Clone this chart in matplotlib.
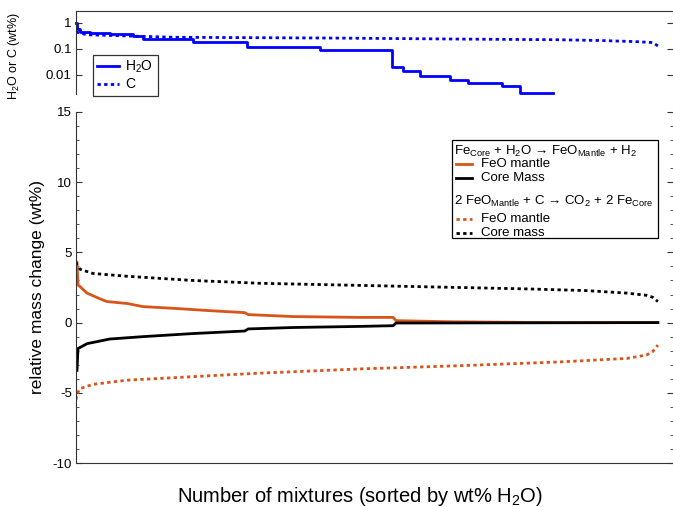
import matplotlib
matplotlib.use('Agg')
import matplotlib.pyplot as plt
from matplotlib.lines import Line2D
from matplotlib.patches import Rectangle
from matplotlib.ticker import FixedLocator, MultipleLocator, NullLocator

plt.rcParams['font.family'] = ['Liberation Sans', 'DejaVu Sans']
plt.rcParams['mathtext.fontset'] = 'custom'
plt.rcParams['mathtext.rm'] = 'Liberation Sans'
plt.rcParams['mathtext.it'] = 'Liberation Sans:italic'
plt.rcParams['mathtext.bf'] = 'Liberation Sans:bold'
plt.rcParams['axes.unicode_minus'] = False

# ---- data (x = mixture number, sorted by wt% H2O) ----
h2o_x = [0, 2, 7, 24, 58, 98, 115, 201, 294, 419, 543, 562, 591, 643, 674, 732, 763, 820]
h2o_y = [1.0, 0.6, 0.46, 0.40, 0.37, 0.32, 0.24, 0.19, 0.123, 0.092, 0.02, 0.014,
         0.009, 0.0065, 0.0048, 0.0036, 0.0019, 0.0019]

c_x = [0, 19, 98, 170, 454, 644, 828, 902, 962, 991, 1000]
c_y = [0.45, 0.35, 0.31, 0.28, 0.26, 0.24, 0.225, 0.21, 0.19, 0.175, 0.13]

feo_h2o_x = [1.7, 3.4, 19, 41, 53, 88, 115, 174, 230, 290, 296, 373, 488, 545, 550, 643, 820, 1000]
feo_h2o_y = [4.3, 2.7, 2.1, 1.7, 1.5, 1.36, 1.14, 1.0, 0.85, 0.71, 0.57, 0.43, 0.37, 0.37,
             0.14, 0.06, 0.0, 0.0]

core_h2o_x = [1.7, 3.4, 19, 58, 115, 201, 290, 296, 373, 488, 545, 550, 1000]
core_h2o_y = [-3.4, -1.85, -1.5, -1.17, -1.0, -0.78, -0.6, -0.45, -0.35, -0.27, -0.22,
              -0.03, 0.0]

core_c_x = [0, 1.7, 7, 29, 88, 201, 316, 488, 775, 877, 947, 981, 991, 1000]
core_c_y = [4.3, 4.1, 3.8, 3.5, 3.3, 3.0, 2.8, 2.65, 2.4, 2.28, 2.1, 1.94, 1.81, 1.5]

feo_c_x = [0, 1.7, 7, 29, 88, 201, 316, 488, 660, 832, 947, 981, 991, 1000]
feo_c_y = [-5.5, -5.1, -4.7, -4.4, -4.1, -3.85, -3.6, -3.3, -3.07, -2.8, -2.55, -2.3,
           -2.07, -1.6]

top_ticks = [0.01, 0.1, 1]
top_ticklabels = ['0.01', '0.1', '1']
main_ticks = [-10, -5, 0, 5, 10, 15]

blue = '#0000ff'
orange = '#d9541a'
spine_col = '#333333'
dots = (0, (1.2, 1.2))

fig = plt.figure(figsize=(6.73, 5.07), dpi=100)
ax_top = fig.add_axes([76 / 673, 1 - 94 / 507, 597 / 673, 83 / 507])
ax = fig.add_axes([76 / 673, 1 - 463 / 507, 597 / 673, 351 / 507])
xlim = (0, 1026)

# ---- top panel: H2O and C content ----
ax_top.plot(h2o_x, h2o_y, color=blue, lw=2, drawstyle='steps-post', label='H$_2$O',
            clip_on=False)
ax_top.plot(c_x, c_y, color=blue, lw=2, linestyle=dots, dash_capstyle='butt', label='C')
ax_top.set_yscale('log')
ax_top.set_ylim(0.0018, 2.9)
ax_top.set_xlim(xlim)
ax_top.yaxis.set_major_locator(FixedLocator(top_ticks))
ax_top.set_yticklabels(top_ticklabels)
ax_top.yaxis.set_minor_locator(NullLocator())
ax_top.set_xticks([])
for s in ['right', 'bottom']:
    ax_top.spines[s].set_visible(False)
for s in ['left', 'top']:
    ax_top.spines[s].set_color(spine_col)
    ax_top.spines[s].set_linewidth(0.8)
ax_top.tick_params(axis='y', direction='in', right=True, length=4, width=0.8,
                   labelsize=9.5, pad=3, color=spine_col)
fig.text(14 / 673, 1 - 56 / 507, 'H$_2$O or C (wt%)', fontsize=9, rotation=90,
         ha='center', va='center')
leg = ax_top.legend(loc='lower left', bbox_to_anchor=(0.028, -0.02), fontsize=10,
                    frameon=True, fancybox=False, edgecolor='black', handlelength=1.6,
                    handletextpad=0.45, labelspacing=0.15, borderpad=0.3,
                    borderaxespad=0)
leg.get_frame().set_linewidth(0.9)

# ---- main panel: relative mass change ----
ax.plot(feo_h2o_x, feo_h2o_y, color=orange, lw=2)
ax.plot(core_h2o_x, core_h2o_y, color='black', lw=2)
ax.plot(feo_c_x, feo_c_y, color=orange, lw=2, linestyle=dots, dash_capstyle='butt')
ax.plot(core_c_x, core_c_y, color='black', lw=2, linestyle=dots, dash_capstyle='butt')
ax.set_xlim(xlim)
ax.set_ylim(-10, 15)
ax.set_yticks(main_ticks)
ax.yaxis.set_minor_locator(MultipleLocator(1))
ax.set_xticks([])
for s in ['right', 'top']:
    ax.spines[s].set_visible(False)
for s in ['left', 'bottom']:
    ax.spines[s].set_color(spine_col)
    ax.spines[s].set_linewidth(0.8)
ax.tick_params(axis='y', which='major', direction='in', right=True, length=4, width=0.8,
               labelsize=9.5, pad=3, color=spine_col)
ax.tick_params(axis='y', which='minor', direction='in', right=True, length=2, width=0.6,
               color=spine_col)
fig.text(38 / 673, 1 - 287 / 507, 'relative mass change (wt%)', fontsize=12.5,
         rotation=90, ha='center', va='center')
fig.text(360 / 673, 1 - 496 / 507, 'Number of mixtures (sorted by wt% H$_2$O)',
         fontsize=14.5, ha='center', va='center')

# ---- legend with reaction headers ----
ax.add_patch(Rectangle((0.630, 0.641), 0.345, 0.279, transform=ax.transAxes,
                       facecolor='white', edgecolor='black', lw=0.9, zorder=5))
hx, lx0, lx1, tx = 0.633, 0.636, 0.664, 0.679
fs = 9.5
ax.text(hx, 0.889, r'Fe$_{\rm Core}$ + H$_2$O → FeO$_{\rm Mantle}$ + H$_2$', fontsize=fs,
        transform=ax.transAxes, va='center', zorder=6)
ax.text(hx, 0.746, r'2 FeO$_{\rm Mantle}$ + C → CO$_2$ + 2 Fe$_{\rm Core}$', fontsize=fs,
        transform=ax.transAxes, va='center', zorder=6)
entries = [('FeO mantle', orange, '-', 0.852), ('Core Mass', 'black', '-', 0.813),
           ('FeO mantle', orange, dots, 0.694), ('Core mass', 'black', dots, 0.655)]
for label, col, ls, yy in entries:
    ax.add_line(Line2D([lx0, lx1], [yy, yy], color=col, lw=2, linestyle=ls,
                       dash_capstyle='butt', transform=ax.transAxes, zorder=6))
    ax.text(tx, yy, label, fontsize=fs, transform=ax.transAxes, va='center', zorder=6)

fig.savefig('out.png', dpi=100)
